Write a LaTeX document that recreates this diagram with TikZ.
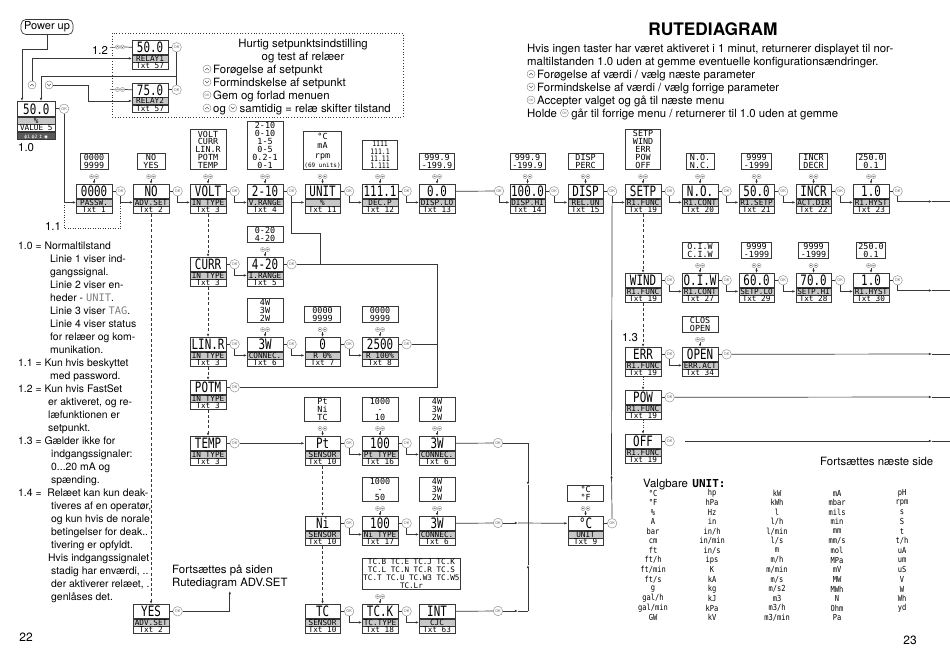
\documentclass[tikz,border=0pt]{standalone}
\usepackage{fontspec}
\setmainfont{TeX Gyre Heros}
\newfontfamily\lcd{DejaVu Sans Mono}[FakeStretch=0.76]
\newfontfamily\lcdo{DejaVu Sans Mono}[FakeStretch=0.85]
\newfontfamily\lcdn{DejaVu Sans Mono}
\newfontfamily\dvs{DejaVu Sans}
\usetikzlibrary{arrows.meta,calc}
\definecolor{band}{gray}{0.78}
\definecolor{lnc}{gray}{0.22}
\definecolor{okg}{gray}{0.55}
\definecolor{stat}{gray}{0.35}
\tikzset{
 vb/.style={draw=lnc, line width=0.6pt, minimum width=35.5pt, minimum height=14pt, inner sep=0pt, anchor=north west, text height=10.4pt, text depth=0pt, font=\lcd\fontsize{14.3}{14}\selectfont},
 lb/.style={draw=lnc, line width=0.6pt, fill=band, minimum width=35.5pt, minimum height=7pt, inner sep=0pt, anchor=north, text height=5.6pt, text depth=0pt, font=\lcdn\fontsize{7.7}{7}\selectfont},
 tb/.style={draw=lnc, line width=0.6pt, minimum width=35.5pt, minimum height=7pt, inner sep=0pt, anchor=north, text height=5.6pt, text depth=0pt, font=\lcdn\fontsize{7.7}{7}\selectfont},
 ok/.style={circle, draw=okg, line width=0.45pt, fill=white, minimum size=9.5pt, inner sep=0pt, font=\fontsize{3.8}{4}\selectfont, text=okg!70!black},
 oks/.style={ok, minimum size=8pt, font=\fontsize{3.2}{3.5}\selectfont},
 ob/.style={draw=lnc, line width=0.6pt, anchor=south, inner sep=1.1pt, align=center, font=\lcdn\fontsize{8.4}{7.9}\selectfont},
 cn/.style={draw=lnc, line width=0.7pt},
 arr/.style={-{Latex[length=3.2pt,width=2.6pt]}},
 dsh/.style={dash pattern=on 3pt off 2.2pt, line width=1pt},
 dtt/.style={dash pattern=on 1pt off 1.5pt, line width=1pt},
 ico/.style={circle, draw=okg, line width=0.45pt, fill=white, minimum size=8pt, inner sep=0pt},
 icoup/.style={ico, path picture={\draw[okg!50!black, line width=0.5pt]
   ([shift={(-1.8,1)}]path picture bounding box.center) -- ([shift={(0,-0.9)}]path picture bounding box.center) -- ([shift={(1.8,1)}]path picture bounding box.center);}},
 icodn/.style={ico, path picture={\draw[okg!50!black, line width=0.5pt]
   ([shift={(-1.8,-1)}]path picture bounding box.center) -- ([shift={(0,0.9)}]path picture bounding box.center) -- ([shift={(1.8,-1)}]path picture bounding box.center);}},
 uvs/.style={minimum width=10pt, minimum height=5pt, inner sep=0pt, fill=white, path picture={
   \draw[okg, line width=0.35pt] ([xshift=-2.5pt]path picture bounding box.center) circle (2.1) ([xshift=2.5pt]path picture bounding box.center) circle (2.1);
   \draw[okg!50!black, line width=0.4pt]
     ([shift={(-3.6,0.6)}]path picture bounding box.center) -- ([shift={(-2.5,-0.6)}]path picture bounding box.center) -- ([shift={(-1.4,0.6)}]path picture bounding box.center)
     ([shift={(1.4,-0.6)}]path picture bounding box.center) -- ([shift={(2.5,0.6)}]path picture bounding box.center) -- ([shift={(3.6,-0.6)}]path picture bounding box.center);}},
 tx/.style={anchor=base west, inner sep=0pt},
 lc/.style={anchor=base west, inner sep=0pt, font=\fontsize{10.4}{13}\selectfont},
 ut/.style={inner sep=0pt, font=\lcdo\fontsize{8.3}{8}\selectfont},
}
\newcommand\dbx[6]{%
  \node[vb] (#1) at (#2,#3) {#4};
  \node[lb] (#1l) at (#1.south) {#5};
  \node[tb] (#1t) at (#1l.south) {#6};}
\newcommand\okd[1]{%
  \node[ok] (#1k) at ([xshift=8.5pt]#1.east) {OK};
  \draw[cn] (#1.east) -- (#1k);}
\newcommand\okc[2]{\draw[cn,arr] (#1k.south) |- (#2l.west);}
\newcommand\optb[4][]{%
  \node[ob, minimum width=#3, #1] (#2o) at ($(#2.north)+(0,-14)$) {#4};
  \node[uvs] (#2s) at ($(#2.north)+(0,-7.5)$) {};
  \draw[cn,arr] (#2s.south) -- (#2.north);}
\newcommand\tl[4]{\node[tx] (#1) at (#2,#3) {#4};}
\newcommand\ql[4]{\node[lc] (#1) at (#2,#3) {#4};}
\begin{document}
\begin{tikzpicture}[x=1pt,y=-1pt, font=\fontsize{11.4}{13}\selectfont]
\useasboundingbox (0,0) rectangle (950,670);

% ---------- power up and normal display ----------
\node[draw=lnc, rounded corners=5pt, minimum width=52pt, minimum height=15pt, inner sep=0pt, line width=0.7pt, font=\fontsize{11}{12}\selectfont] (pu) at (47,27) {Power up};
\node[vb, minimum width=38pt, minimum height=15pt] (d10) at (17,101) {50.0};
\node[lb, minimum width=38pt] (d10l) at (d10.south) {\%};
\node[tb, minimum width=38pt] (d10t) at (d10l.south) {VALUE 5};
\node[tb, minimum width=38pt, fill=stat, text=white, font=\dvs\fontsize{4.5}{5}\selectfont] (d10s) at (d10t.south) {ϕ1 ϕ2 ↕ ◉};
\node[ok] (d10k) at ([xshift=8.5pt]d10.east) {OK};
\draw[cn] (d10.east) -- (d10k);
\tl{l10}{18}{151}{1.0}
\draw[cn,arr] (pu.south) -- ++(0,14) -| ([xshift=5pt]d10.north west);

\node[icoup] (up1) at (32,85) {};
\node[icodn] (dn1) at (49,85) {};

% relay fast set
\dbx{ra}{132}{40}{50.0}{RELAY1}{Txt 57}\okd{ra}
\dbx{rb}{132}{82.5}{75.0}{RELAY2}{Txt 57}\okd{rb}
\node[uvs] (ras) at (120,47) {};
\node[uvs] (rbs) at (120,89.5) {};
\draw[okg, line width=0.4pt] ([xshift=-5pt]ras.west) -- (ras.west);
\draw[okg, line width=0.4pt] ([xshift=-5pt]rbs.west) -- (rbs.west);
\draw[cn] (ras.east) -- (ra.west);
\draw[cn] (rbs.east) -- (rb.west);
\draw[cn,arr] (up1.north) |- (ral.west);
\draw[cn,arr] (dn1.east) -- ++(35,0) |- (rbl.west);
\draw[cn] (rak.south) -- (rbk.north);
\coordinate (rj) at (176,76);
\draw[cn,arr] (rj) -| ([xshift=24pt]d10.north west);
\node (n12) at (100,50) {1.2};

\draw[lnc, dotted, line width=0.8pt] (112,33) rectangle (403,117);
\node[anchor=base, inner sep=0pt] (h1) at (303,47) {Hurtig setpunktsindstilling};
\node[anchor=base, inner sep=0pt] (h2) at (303,60) {og test af relæer};
\node[icoup] (bi1) at (207,69) {}; \tl{b1}{213}{73}{Forøgelse af setpunkt}
\node[icodn] (bi2) at (207,82) {}; \tl{b2}{213}{86}{Formindskelse af setpunkt}
\node[oks] (bi3) at (207,95) {OK}; \tl{b3}{213}{99}{Gem og forlad menuen}
\node[icoup] (bi4) at (207,108) {}; \tl{b4}{213}{112}{og}
\node[icodn, anchor=west] (bi5) at ($(b4.base east)+(2.5,-4)$) {};
\node[tx] (b5) at ($(bi5.east |- b4.base)+(2.5,0)$) {samtidig = relæ skifter tilstand};

% ---------- title and legend ----------
\node[font=\bfseries\fontsize{17.3}{18}\selectfont] (title) at (713,29) {RUTEDIAGRAM};
\tl{p1}{527}{52}{Hvis ingen taster har været aktiveret i 1 minut, returnerer displayet til nor-}
\tl{p2}{527}{65}{maltilstanden 1.0 uden at gemme eventuelle konfigurationsændringer.}
\node[icoup] (pi1) at (531,74) {}; \tl{p3}{537}{78}{Forøgelse af værdi / vælg næste parameter}
\node[icodn] (pi2) at (531,87) {}; \tl{p4}{537}{91}{Formindskelse af værdi / vælg forrige parameter}
\node[oks] (pi3) at (531,100) {OK}; \tl{p5}{537}{104}{Accepter valget og gå til næste menu}
\tl{p6}{527}{117}{Holde}
\node[oks, anchor=west] (pi4) at ($(p6.base east)+(3,-4)$) {OK};
\node[tx] (p7) at ($(pi4.east |- p6.base)+(2.5,0)$) {går til forrige menu / returnerer til 1.0 uden at gemme};

% ---------- row 1 ----------
\dbx{pw}{76}{184}{0000}{PASSW.}{Txt 1}\okd{pw}\optb{pw}{28}{0000\\9999}
\dbx{adv}{133}{184}{NO}{ADV.SET}{Txt 2}\okd{adv}\optb{adv}{28}{NO\\YES}
\dbx{volt}{190}{184}{VOLT}{IN TYPE}{Txt 3}\okd{volt}\optb{volt}{36}{VOLT\\CURR\\LIN.R\\POTM\\TEMP}
\dbx{vr}{247}{184}{2-10}{V.RANGE}{Txt 4}\okd{vr}\optb{vr}{36}{2-10\\0-10\\1-5\\0-5\\0.2-1\\0-1}
\dbx{unit}{304.5}{184}{UNIT}{\%}{Txt 11}\okd{unit}\optb[font=\lcdn\fontsize{8.4}{9.6}\selectfont]{unit}{37}{°C\\mA\\rpm\\{\fontsize{6}{9.6}\selectfont(69 units)}}
\dbx{decp}{362}{184}{111.1}{DEC.P}{Txt 12}\okd{decp}\optb[font=\lcdo\fontsize{7.6}{7.3}\selectfont]{decp}{35}{1111\\111.1\\11.11\\1.111}
\dbx{dlo}{419}{184}{0.0}{DISP.LO}{Txt 13}\optb{dlo}{35}{999.9\\-199.9}
\node[ok] (dlok) at (499,191) {OK};
\draw[cn] (dlo.east) -- (dlok);
\dbx{dhi}{509.5}{184}{100.0}{DISP.HI}{Txt 14}\okd{dhi}\optb{dhi}{35}{999.9\\-199.9}
\dbx{relun}{567.5}{184}{DISP}{REL.UN}{Txt 15}\okd{relun}\optb{relun}{35}{DISP\\PERC}
\dbx{setp}{625}{184}{SETP}{R1.FUNC}{Txt 19}\okd{setp}\optb{setp}{35}{SETP\\WIND\\ERR\\POW\\OFF}
\dbx{rcont}{682}{184}{N.O.}{R1.CONT}{Txt 20}\okd{rcont}\optb{rcont}{28}{N.O.\\N.C.}
\dbx{rsetp}{738.5}{184}{50.0}{R1.SETP}{Txt 21}\okd{rsetp}\optb{rsetp}{30}{9999\\-1999}
\dbx{actdir}{795.5}{184}{INCR}{ACT.DIR}{Txt 22}\okd{actdir}\optb{actdir}{28}{INCR\\DECR}
\dbx{rhyst}{853}{184}{1.0}{R1.HYST}{Txt 23}\okd{rhyst}\optb{rhyst}{29}{250.0\\0.1}

\draw[cn,arr] (d10k.south) |- (pwl.west);
\draw[cn,dtt] (d10k |- pwl.west) -- ++(0,26.5) -| (pwk |- advl.west);
\node (n11) at (53,226) {1.1};
\okc{pw}{adv}\okc{adv}{volt}\okc{volt}{vr}\okc{vr}{unit}\okc{unit}{decp}\okc{decp}{dlo}
\okc{dlo}{dhi}\okc{dhi}{relun}\okc{relun}{setp}\okc{setp}{rcont}\okc{rcont}{rsetp}\okc{rsetp}{actdir}\okc{actdir}{rhyst}
\coordinate (m1) at (932,201.5); \coordinate (e1) at (950,201.5);
\draw[cn,arr] (rhystk.south) |- (m1); \draw[cn] (m1) -- (e1);

% ---------- ADV.SET ----------
\dbx{yes}{133}{604}{YES}{ADV.SET}{Txt 2}\okd{yes}
\draw[cn,dsh,arr] (advt.south) -- (yes.north);
\node[anchor=south west, align=left, inner sep=0pt] (fpa) at (172,589) {Fortsættes på siden\\Rutediagram ADV.SET};
\draw[cn,arr] (yesk.east) -| ([yshift=-2pt]fpa.south);

% ---------- input types ----------
\dbx{curr}{190}{257}{CURR}{IN TYPE}{Txt 3}\okd{curr}
\dbx{linr}{190}{337}{LIN.R}{IN TYPE}{Txt 3}\okd{linr}
\dbx{potm}{190}{380}{POTM}{IN TYPE}{Txt 3}\okd{potm}
\dbx{temp}{190}{436}{TEMP}{IN TYPE}{Txt 3}\okd{temp}
\draw[cn,dsh,arr] (voltt.south) -- (curr.north);
\draw[cn,dsh,arr] (currt.south) -- (linr.north);
\draw[cn,dsh,arr] (linrt.south) -- (potm.north);
\draw[cn,dsh,arr] (potmt.south) -- (temp.north);

\dbx{ir}{247}{257}{4-20}{I.RANGE}{Txt 5}\okd{ir}\optb{ir}{36}{0-20\\4-20}
\okc{curr}{ir}
\dbx{cona}{247}{337}{3W}{CONNEC.}{Txt 6}\okd{cona}\optb{cona}{36}{4W\\3W\\2W}
\dbx{rzero}{304.5}{337}{0}{R 0\%}{Txt 7}\okd{rzero}\optb{rzero}{36}{0000\\9999}
\dbx{rfull}{362}{337}{2500}{R 100\%}{Txt 8}\okd{rfull}\optb{rfull}{36}{0000\\9999}
\okc{linr}{cona}\okc{cona}{rzero}\okc{rzero}{rfull}

\coordinate (jx) at (320,233);
\coordinate (colx) at (437,0);
\draw[cn] (vrk.south) |- (jx) -- (jx |- irk);
\draw[cn] (irk) -- (irk -| colx) -- (potmk -| colx) -- (potmk);
\draw[cn] (rfullk) -- (rfullk -| colx);

% ---------- temperature ----------
\dbx{pt}{304.5}{436}{Pt}{SENSOR}{Txt 10}\okd{pt}\optb{pt}{36}{Pt\\Ni\\TC}
\dbx{pty}{362}{436}{100}{Pt TYPE}{Txt 16}\okd{pty}\optb{pty}{36}{1000\\-\\10}
\dbx{pcn}{419}{436}{3W}{CONNEC.}{Txt 6}\optb{pcn}{36}{4W\\3W\\2W}
\node[ok] (pcnk) at (498,443) {OK}; \draw[cn] (pcn.east) -- (pcnk);
\draw[cn,arr] (tempk) -- (pt.west);
\okc{pt}{pty}\okc{pty}{pcn}

\dbx{ni}{304.5}{516}{Ni}{SENSOR}{Txt 10}\okd{ni}
\dbx{nty}{362}{516}{100}{Ni TYPE}{Txt 17}\okd{nty}\optb{nty}{36}{1000\\-\\50}
\dbx{ncn}{419}{516}{3W}{CONNEC.}{Txt 6}\optb{ncn}{36}{4W\\3W\\2W}
\node[ok] (ncnk) at (498,523) {OK}; \draw[cn] (ncn.east) -- (ncnk);
\okc{ni}{nty}\okc{nty}{ncn}

\dbx{tc}{304.5}{604}{TC}{SENSOR}{Txt 10}\okd{tc}
\dbx{tty}{362}{604}{TC.K}{TC.TYPE}{Txt 18}\okd{tty}
\node[ob, anchor=south west, minimum width=93pt, font=\lcdn\fontsize{7.6}{7.9}\selectfont] (ttyo) at (362,590) {TC.B TC.E TC.J TC.K\\TC.L TC.N TC.R TC.S\\TC.T TC.U TC.W3 TC.W5\\TC.Lr};
\node[uvs] (ttys) at ($(tty.north)+(0,-7.5)$) {};
\draw[cn,arr] (ttys.south) -- (tty.north);
\dbx{cjc}{419}{604}{INT}{CJC}{Txt 63}
\node[ok] (cjck) at (498,611) {OK}; \draw[cn] (cjc.east) -- (cjck);
\okc{tc}{tty}\okc{tty}{cjc}
\draw[cn,dsh,arr] (ptt.south) -- (ni.north);
\draw[cn,dsh,arr] (nit.south) -- (tc.north);

\dbx{deg}{567.5}{516}{°C}{UNIT}{Txt 9}\okd{deg}\optb{deg}{36}{°C\\°F}
\coordinate (j1) at (528,443); \coordinate (j1m) at (528,485);
\coordinate (j2) at (528,523);
\coordinate (j3) at (528,611); \coordinate (j3m) at (528,565);
\coordinate (m2) at (518,523); \coordinate (m3) at (518,611);
\coordinate (m4) at (611.5,475);
\draw[cn] (pcnk) -- (j1); \draw[cn,arr] (j1) -- (j1m); \draw[cn] (j1m) -- (j2);
\draw[cn,arr] (ncnk) -- (m2); \draw[cn,arr] (m2) -- (deg.west);
\draw[cn,arr] (cjck) -- (m3); \draw[cn] (m3) -- (j3); \draw[cn,arr] (j3) -- (j3m); \draw[cn] (j3m) -- (j2);
\draw[cn,arr] (degk.north) -- (m4); \draw[cn] (m4) -- (relunk |- setpl.west);

% ---------- relay functions ----------
\dbx{wind}{625}{273}{WIND}{R1.FUNC}{Txt 19}\okd{wind}
\dbx{wcont}{682}{273}{O.I.W}{R1.CONT}{Txt 27}\okd{wcont}\optb{wcont}{36}{O.I.W\\C.I.W}
\dbx{slo}{738.5}{273}{60.0}{SETP.LO}{Txt 29}\okd{slo}\optb{slo}{30}{9999\\-1999}
\dbx{shi}{795.5}{273}{70.0}{SETP.HI}{Txt 28}\okd{shi}\optb{shi}{30}{9999\\-1999}
\dbx{whyst}{853}{273}{1.0}{R1.HYST}{Txt 30}\okd{whyst}\optb{whyst}{29}{250.0\\0.1}
\okc{wind}{wcont}\okc{wcont}{slo}\okc{slo}{shi}\okc{shi}{whyst}
\coordinate (m5) at (932,290.5); \coordinate (e5) at (950,290.5);
\draw[cn,arr] (whystk.south) |- (m5); \draw[cn] (m5) -- (e5);

\dbx{err}{625}{347}{ERR}{R1.FUNC}{Txt 19}\okd{err}
\dbx{eact}{682}{347}{OPEN}{ERR.ACT}{Txt 34}\okd{eact}\optb{eact}{36}{CLOS\\OPEN}
\okc{err}{eact}
\coordinate (m6) at (932,354); \coordinate (e6) at (950,354);
\draw[cn,arr] (eactk) -- (m6); \draw[cn] (m6) -- (e6);
\node (n13) at (630,338) {1.3};

\dbx{pow}{625}{390}{POW}{R1.FUNC}{Txt 19}\okd{pow}
\coordinate (m7) at (932,397); \coordinate (e7) at (950,397);
\draw[cn,arr] (powk) -- (m7); \draw[cn] (m7) -- (e7);

\dbx{off}{625}{434}{OFF}{R1.FUNC}{Txt 19}\okd{off}
\coordinate (a8) at (685,441); \coordinate (m8) at (932,441); \coordinate (e8) at (950,441);
\draw[cn,arr] (a8) -- (m8); \draw[cn] (m8) -- (e8);

\draw[cn,dsh,arr] (setpt.south) -- (wind.north);
\draw[cn,dsh,arr] (windt.south) -- (err.north);
\draw[cn,dtt,arr] (errt.south) -- (pow.north);
\draw[cn,dtt,arr] (powt.south) -- (off.north);

\tl{fns}{820}{465}{Fortsættes næste side}

% ---------- left notes ----------
\ql{q1}{18}{249}{1.0 = Normaltilstand}
\ql{q2}{50}{262}{Linie 1 viser ind-}
\ql{q3}{50}{275}{gangssignal.}
\ql{q4}{50}{288}{Linie 2 viser en-}
\ql{q5}{50}{301}{heder - {\lcdn\color{gray}UNIT}.}
\ql{q6}{50}{314}{Linie 3 viser {\lcdn\color{gray}TAG}.}
\ql{q7}{50}{327}{Linie 4 viser status}
\ql{q8}{50}{340}{for relæer og kom-}
\ql{q9}{50}{353}{munikation.}
\ql{q10}{18}{366}{1.1 = Kun hvis beskyttet}
\ql{q11}{50}{379}{med password.}
\ql{q12}{18}{392}{1.2 = Kun hvis FastSet}
\ql{q13}{48}{405}{er aktiveret, og re-}
\ql{q14}{48}{418}{læfunktionen er}
\ql{q15}{48}{431}{setpunkt.}
\ql{q16}{18}{444}{1.3 = Gælder ikke for}
\ql{q17}{51}{457}{indgangssignaler:}
\ql{q18}{51}{470}{0...20 mA og}
\ql{q19}{51}{483}{spænding.}
\ql{q20}{18}{496}{1.4 = \ Relæet kan kun deak-}
\ql{q21}{51}{509}{tiveres af en operatør,}
\ql{q22}{51}{522}{og kun hvis de norale}
\ql{q23}{51}{535}{betingelser for deak..}
\ql{q24}{51}{548}{tivering er opfyldt.}
\ql{q25}{48}{561}{Hvis indgangssignalet}
\ql{q26}{51}{574}{stadig har enværdi, ..}
\ql{q27}{51}{587}{der aktiverer relæet, .}
\ql{q28}{51}{600}{genlåses det.}

% ---------- unit table ----------
\tl{vg}{643}{487}{Valgbare}
\node[tx, font=\lcdn\bfseries\fontsize{11}{11}\selectfont] (vgu) at ($(vg.base east)+(4,0)$) {UNIT:};
\foreach \t [count=\i] in {°C,°F,\%,A,bar,cm,ft,ft/h,ft/min,ft/s,g,gal/h,gal/min,GW}
  \node[ut] (ua\i) at (653,{483.4+9.6*\i}) {\t};
\foreach \t [count=\i] in {hp,hPa,Hz,in,in/h,in/min,in/s,ips,K,kA,kg,kJ,kPa,kV}
  \node[ut] (ub\i) at (712,{483.4+9.6*\i}) {\t};
\foreach \t [count=\i] in {kW,kWh,l,l/h,l/min,l/s,m,m/h,m/min,m/s,m/s2,m3,m3/h,m3/min}
  \node[ut] (uc\i) at (777,{483.4+9.6*\i}) {\t};
\foreach \t [count=\i] in {mA,mbar,mils,min,mm,mm/s,mol,MPa,mV,MW,MWh,N,Ohm,Pa}
  \node[ut] (ud\i) at (837,{483.4+9.6*\i}) {\t};
\foreach \t [count=\i] in {pH,rpm,s,S,t,t/h,uA,um,uS,V,W,Wh,yd}
  \node[ut] (ue\i) at (902,{483.4+9.6*\i}) {\t};

\node[font=\fontsize{12}{12}\selectfont] (pg22) at (26,637) {22};
\node[font=\fontsize{12}{12}\selectfont] (pg23) at (910,640) {23};
\end{tikzpicture}
\end{document}
